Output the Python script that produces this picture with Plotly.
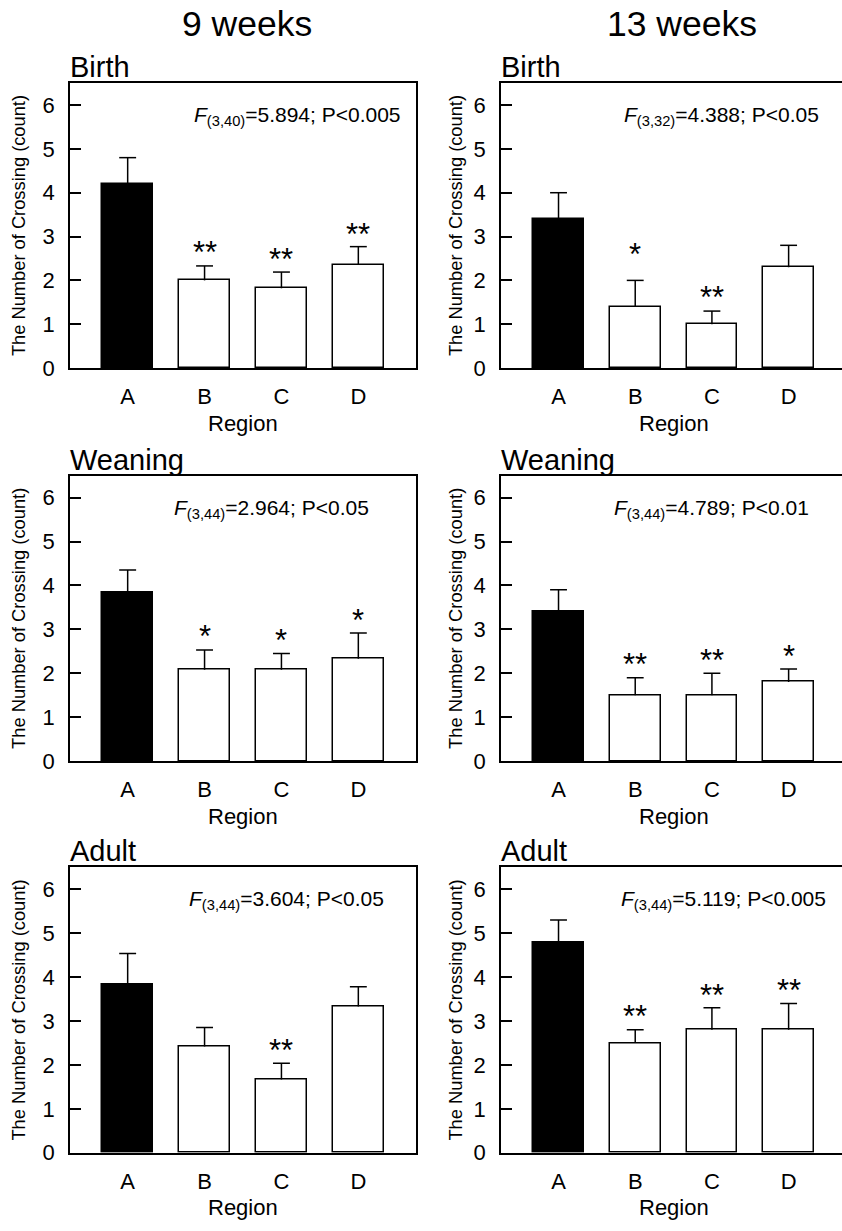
import plotly.graph_objects as go
from plotly.subplots import make_subplots

# ---------------- data ----------------
regions = ["A", "B", "C", "D"]
col_titles = ["9 weeks", "13 weeks"]
panel_titles = ["Birth", "Birth", "Weaning", "Weaning", "Adult", "Adult"]

mean_9w_birth = [4.2, 2.0, 1.82, 2.36]
sem_9w_birth = [0.6, 0.33, 0.37, 0.41]
mean_13w_birth = [3.4, 1.4, 1.0, 2.3]
sem_13w_birth = [0.6, 0.6, 0.3, 0.5]
mean_9w_weaning = [3.83, 2.08, 2.08, 2.33]
sem_9w_weaning = [0.52, 0.45, 0.37, 0.59]
mean_13w_weaning = [3.4, 1.5, 1.5, 1.8]
sem_13w_weaning = [0.5, 0.4, 0.5, 0.3]
mean_9w_adult = [3.84, 2.42, 1.67, 3.33]
sem_9w_adult = [0.7, 0.43, 0.37, 0.45]
mean_13w_adult = [4.8, 2.5, 2.8, 2.8]
sem_13w_adult = [0.5, 0.3, 0.5, 0.6]

sig_9w_birth = ["", "**", "**", "**"]
sig_13w_birth = ["", "*", "**", ""]
sig_9w_weaning = ["", "*", "*", "*"]
sig_13w_weaning = ["", "**", "**", "*"]
sig_9w_adult = ["", "", "**", ""]
sig_13w_adult = ["", "**", "**", "**"]

sig_y_9w_birth = [None, 2.8, 2.63, 3.2]
sig_y_13w_birth = [None, 2.75, 1.76, None]
sig_y_9w_weaning = [None, 2.99, 2.9, 3.36]
sig_y_13w_weaning = [None, 2.35, 2.46, 2.54]
sig_y_9w_adult = [None, None, 2.49, None]
sig_y_13w_adult = [None, 3.27, 3.75, 3.85]

stats_text = [
    "<i>F</i><sub>(3,40)</sub>=5.894; P&lt;0.005",
    "<i>F</i><sub>(3,32)</sub>=4.388; P&lt;0.05",
    "<i>F</i><sub>(3,44)</sub>=2.964; P&lt;0.05",
    "<i>F</i><sub>(3,44)</sub>=4.789; P&lt;0.01",
    "<i>F</i><sub>(3,44)</sub>=3.604; P&lt;0.05",
    "<i>F</i><sub>(3,44)</sub>=5.119; P&lt;0.005",
]

panels = [
    (mean_9w_birth, sem_9w_birth, sig_9w_birth, sig_y_9w_birth),
    (mean_13w_birth, sem_13w_birth, sig_13w_birth, sig_y_13w_birth),
    (mean_9w_weaning, sem_9w_weaning, sig_9w_weaning, sig_y_9w_weaning),
    (mean_13w_weaning, sem_13w_weaning, sig_13w_weaning, sig_y_13w_weaning),
    (mean_9w_adult, sem_9w_adult, sig_9w_adult, sig_y_9w_adult),
    (mean_13w_adult, sem_13w_adult, sig_13w_adult, sig_y_13w_adult),
]

# ---------------- layout / style ----------------
W, H = 842, 1231
FONT = "Liberation Sans, Arial, Helvetica, sans-serif"
bar_colors = ["black", "white", "white", "white"]
stats_x = [0.353, 0.354, 0.295, 0.325, 0.338, 0.345]
CAP = 0.11  # half-width of error-bar cap in category units

x_dom = [[70 / W, 416 / W], [501 / W, 1.0]]
x_rng = [[-0.75, 3.75], [-0.75, 3.696]]
row_px = [(84, 372), (480.7, 769.3), (876.7, 1165)]
y_dom = [[1 - b / H, 1 - t / H] for t, b in row_px]

fig = make_subplots(rows=3, cols=2)

for i, (mean, sem, sig, sig_y) in enumerate(panels):
    r, c = i // 2 + 1, i % 2 + 1
    xs = list(range(len(regions)))
    # upper error bars (stem + cap), built from the data
    ex, ey = [], []
    for k, (m, s) in enumerate(zip(mean, sem)):
        ex += [k, k, None, k - CAP, k + CAP, None]
        ey += [m, m + s, None, m + s, m + s, None]
    fig.add_trace(
        go.Scatter(x=ex, y=ey, mode="lines",
                   line=dict(color="black", width=1.5),
                   showlegend=False, hoverinfo="skip", cliponaxis=False),
        row=r, col=c,
    )
    fig.add_trace(
        go.Bar(
            x=xs, y=mean, width=0.66,
            marker=dict(color=bar_colors, line=dict(color="black", width=1.5)),
            showlegend=False, hoverinfo="skip",
        ),
        row=r, col=c,
    )
    ax = "" if i == 0 else str(i + 1)
    xref, yref = "x" + ax, "y" + ax
    # significance marks
    for k, (s, yy) in enumerate(zip(sig, sig_y)):
        if s:
            fig.add_annotation(
                x=k, y=yy, xref=xref, yref=yref, text=s, showarrow=False,
                font=dict(family=FONT, size=31, color="black"),
                yanchor="middle", yshift=-7,
            )
    # statistics text
    fig.add_annotation(
        x=stats_x[i], y=5.75, xref=xref + " domain", yref=yref,
        text=stats_text[i], showarrow=False, xanchor="left", yanchor="middle",
        font=dict(family=FONT, size=21, color="black"),
    )
    # panel title
    fig.add_annotation(
        x=0, y=1, xref=xref + " domain", yref=yref + " domain",
        text=panel_titles[i], showarrow=False, xanchor="left", yanchor="bottom",
        xshift=-2, yshift=-2,
        font=dict(family=FONT, size=29, color="black"),
    )
    # x axis title
    fig.add_annotation(
        x=1.5, y=0, xref=xref, yref=yref + " domain", text="Region",
        showarrow=False, xanchor="center", yanchor="middle", yshift=-55,
        font=dict(family=FONT, size=22, color="black"),
    )
    # y axis title
    fig.add_annotation(
        x=(18.5 if c == 1 else 455.5) / W, y=sum(y_dom[r - 1]) / 2,
        xref="paper", yref="paper", text="The Number of Crossing (count)",
        textangle=-90, showarrow=False, xanchor="center", yanchor="middle",
        font=dict(family=FONT, size=18.3, color="black"),
    )
    fig.update_xaxes(
        domain=x_dom[c - 1], range=x_rng[c - 1],
        tickvals=xs, ticktext=regions,
        ticks="", showline=True, linecolor="black", linewidth=1.5,
        mirror=True, showgrid=False, zeroline=False,
        tickfont=dict(family=FONT, size=22, color="black"),
        ticklabelstandoff=8,
        row=r, col=c,
    )
    fig.update_yaxes(
        domain=y_dom[r - 1], range=[0, 6.5],
        tickvals=[0, 1, 2, 3, 4, 5, 6],
        ticks="inside", ticklen=11, tickwidth=1.5, tickcolor="black",
        showline=True, linecolor="black", linewidth=1.5,
        mirror=(c == 1), showgrid=False, zeroline=False,
        tickfont=dict(family=FONT, size=22, color="black"),
        ticklabelstandoff=9,
        row=r, col=c,
    )

# column titles
for c, (t, xc) in enumerate(zip(col_titles, [246.7, 682])):
    fig.add_annotation(
        x=xc / W, y=1 - 24 / H, xref="paper", yref="paper", text=t,
        showarrow=False, xanchor="center", yanchor="middle",
        font=dict(family=FONT, size=35.5, color="black"),
    )

fig.update_layout(
    width=W, height=H,
    margin=dict(l=0, r=0, t=0, b=0),
    paper_bgcolor="white", plot_bgcolor="white",
    bargap=0, font=dict(family=FONT, color="black"),
)

fig.write_html("out.html")
